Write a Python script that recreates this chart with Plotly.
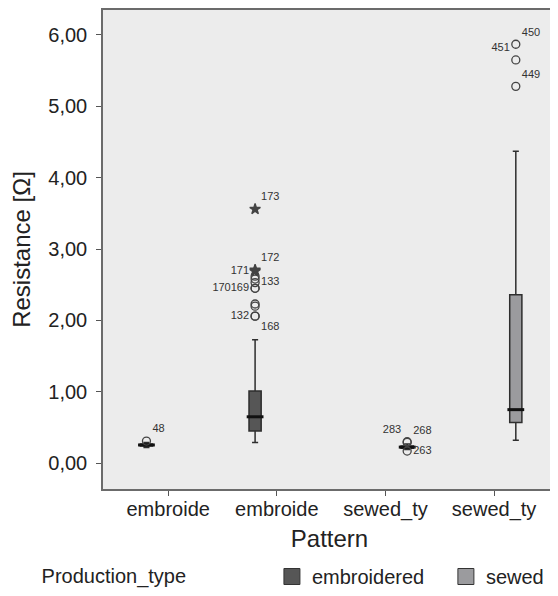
import plotly.graph_objects as go

# ---- data ----
patterns = ["embroide (1)", "embroide (2)", "sewed_ty (1)", "sewed_ty (2)"]
tick_labels = ["embroide", "embroide", "sewed_ty", "sewed_ty"]
y_ticks = [0, 1, 2, 3, 4, 5, 6]

emb_x = ["embroide (1)", "embroide (2)"]
emb_lowerfence = [0.22, 0.29]
emb_q1 = [0.24, 0.45]
emb_median = [0.255, 0.65]
emb_q3 = [0.27, 1.01]
emb_upperfence = [0.29, 1.73]

sew_x = ["sewed_ty (1)", "sewed_ty (2)"]
sew_lowerfence = [0.19, 0.32]
sew_q1 = [0.21, 0.57]
sew_median = [0.225, 0.75]
sew_q3 = [0.24, 2.36]
sew_upperfence = [0.27, 4.37]

emb_out_x = ["embroide (1)"] + ["embroide (2)"] * 12
emb_out_y = [0.31, 3.56, 2.71, 2.69, 2.62, 2.58, 2.53, 2.45, 2.45, 2.23, 2.20, 2.06, 2.06]
emb_out_label = ["48", "173", "172", "171", "", "", "133", "169",
                 "170\u00a0\u00a0\u00a0\u00a0\u00a0\u00a0", "", "", "132", "168"]
emb_out_kind = ["circle", "star", "star", "star", "circle", "circle", "circle",
                "circle", "circle", "circle", "circle", "circle", "circle"]
emb_out_pos = ["top right", "top right", "top right", "middle left", "top right",
               "top right", "middle right", "middle left", "middle left",
               "top right", "top right", "middle left", "bottom right"]

sew_out_x = ["sewed_ty (1)"] * 3 + ["sewed_ty (2)"] * 3
sew_out_y = [0.30, 0.29, 0.17, 5.87, 5.65, 5.28]
sew_out_label = ["283", "268", "263", "450", "451", "449"]
sew_out_kind = ["circle"] * 6
sew_out_pos = ["top left", "top right", "middle right", "top right", "top left", "top right"]

EMB_COLOR = "#565656"
SEW_COLOR = "#9b9b9e"
LINE = "#2e2e2e"
FONT = "Liberation Sans, Arial, sans-serif"
NB = "\u00a0"


def sym(kinds):
    return ["star" if k == "star" else "circle-open" for k in kinds]


groups = [
    ("emb", "embroidered", emb_x, emb_lowerfence, emb_q1, emb_median, emb_q3, emb_upperfence,
     emb_out_x, emb_out_y, emb_out_label, emb_out_kind, emb_out_pos, EMB_COLOR),
    ("sew", "sewed", sew_x, sew_lowerfence, sew_q1, sew_median, sew_q3, sew_upperfence,
     sew_out_x, sew_out_y, sew_out_label, sew_out_kind, sew_out_pos, SEW_COLOR),
]

fig = go.Figure()
for grp, name, xs, lf, q1, md, q3, uf, ox, oy, olab, okind, opos, col in groups:
    fig.add_trace(go.Box(
        name=name, x=xs, q1=q1, median=md, q3=q3, lowerfence=lf, upperfence=uf,
        fillcolor=col, line=dict(color=LINE, width=1.5), whiskerwidth=0.5,
        boxpoints=False, showlegend=False, offsetgroup=grp, alignmentgroup="all",
    ))

# thick median bars, outliers (grouped to match the boxes)
for grp, name, xs, lf, q1, md, q3, uf, ox, oy, olab, okind, opos, col in groups:
    fig.add_trace(go.Scatter(
        x=xs, y=md, mode="markers", offsetgroup=grp, alignmentgroup="all",
        showlegend=False,
        marker=dict(symbol="line-ew", size=12, line=dict(color="#111", width=3)),
        hoverinfo="skip",
    ))
    fig.add_trace(go.Scatter(
        x=ox, y=oy, mode="markers+text", text=olab,
        textposition=opos, textfont=dict(size=11, color="#333", family=FONT),
        marker=dict(symbol=sym(okind), size=8, color="#444",
                    line=dict(color="#444", width=1.3)),
        showlegend=False, offsetgroup=grp, alignmentgroup="all", cliponaxis=False,
    ))
# legend swatches on a hidden helper axis
legend_pad = {"embroidered": NB * 3, "sewed": ""}
for grp, name, xs, lf, q1, md, q3, uf, ox, oy, olab, okind, opos, col in groups:
    fig.add_trace(go.Scatter(
        x=[None], y=[None], mode="markers", name=name + legend_pad[name],
        marker=dict(symbol="square", size=18, color=col, line=dict(color="#333", width=1)),
        showlegend=True, xaxis="x2", yaxis="y2",
    ))

axis_common = dict(
    showline=True, linecolor="#6b6b6b", linewidth=1.5, mirror=True,
    ticks="outside", ticklen=5, tickcolor="#555", showgrid=False, zeroline=False,
)

fig.update_layout(
    width=550, height=588,
    margin=dict(l=95, r=0, t=0, b=106),
    paper_bgcolor="white", plot_bgcolor="#ececec",
    font=dict(family=FONT, size=20, color="#222"),
    separators=",.",
    boxmode="group", boxgap=0.2, boxgroupgap=0.72,
    scattermode="group", scattergap=0.2,
    xaxis=dict(
        type="category", categoryorder="array", categoryarray=patterns,
        tickvals=patterns, ticktext=tick_labels, range=[-0.6, 3.57],
        tickangle=0, ticklabelstandoff=-4,
        title=dict(text="Pattern", standoff=10), **axis_common,
    ),
    yaxis=dict(
        range=[-0.362, 6.35], tickvals=y_ticks, tickformat=".2f",
        ticklabelstandoff=5,
        title=dict(text="Resistance [Ω]", standoff=14), **axis_common,
    ),
    xaxis2=dict(domain=[0, 0.01], anchor="y2", visible=False),
    yaxis2=dict(domain=[0, 0.01], anchor="x2", visible=False),
    legend=dict(
        orientation="h", x=-0.14, xanchor="left", y=-0.183, yanchor="middle",
        title=dict(text="Production_type" + NB * 14, font=dict(size=20)),
        font=dict(size=20), itemwidth=30,
        bgcolor="rgba(0,0,0,0)",
    ),
)

fig.write_html("out.html")
